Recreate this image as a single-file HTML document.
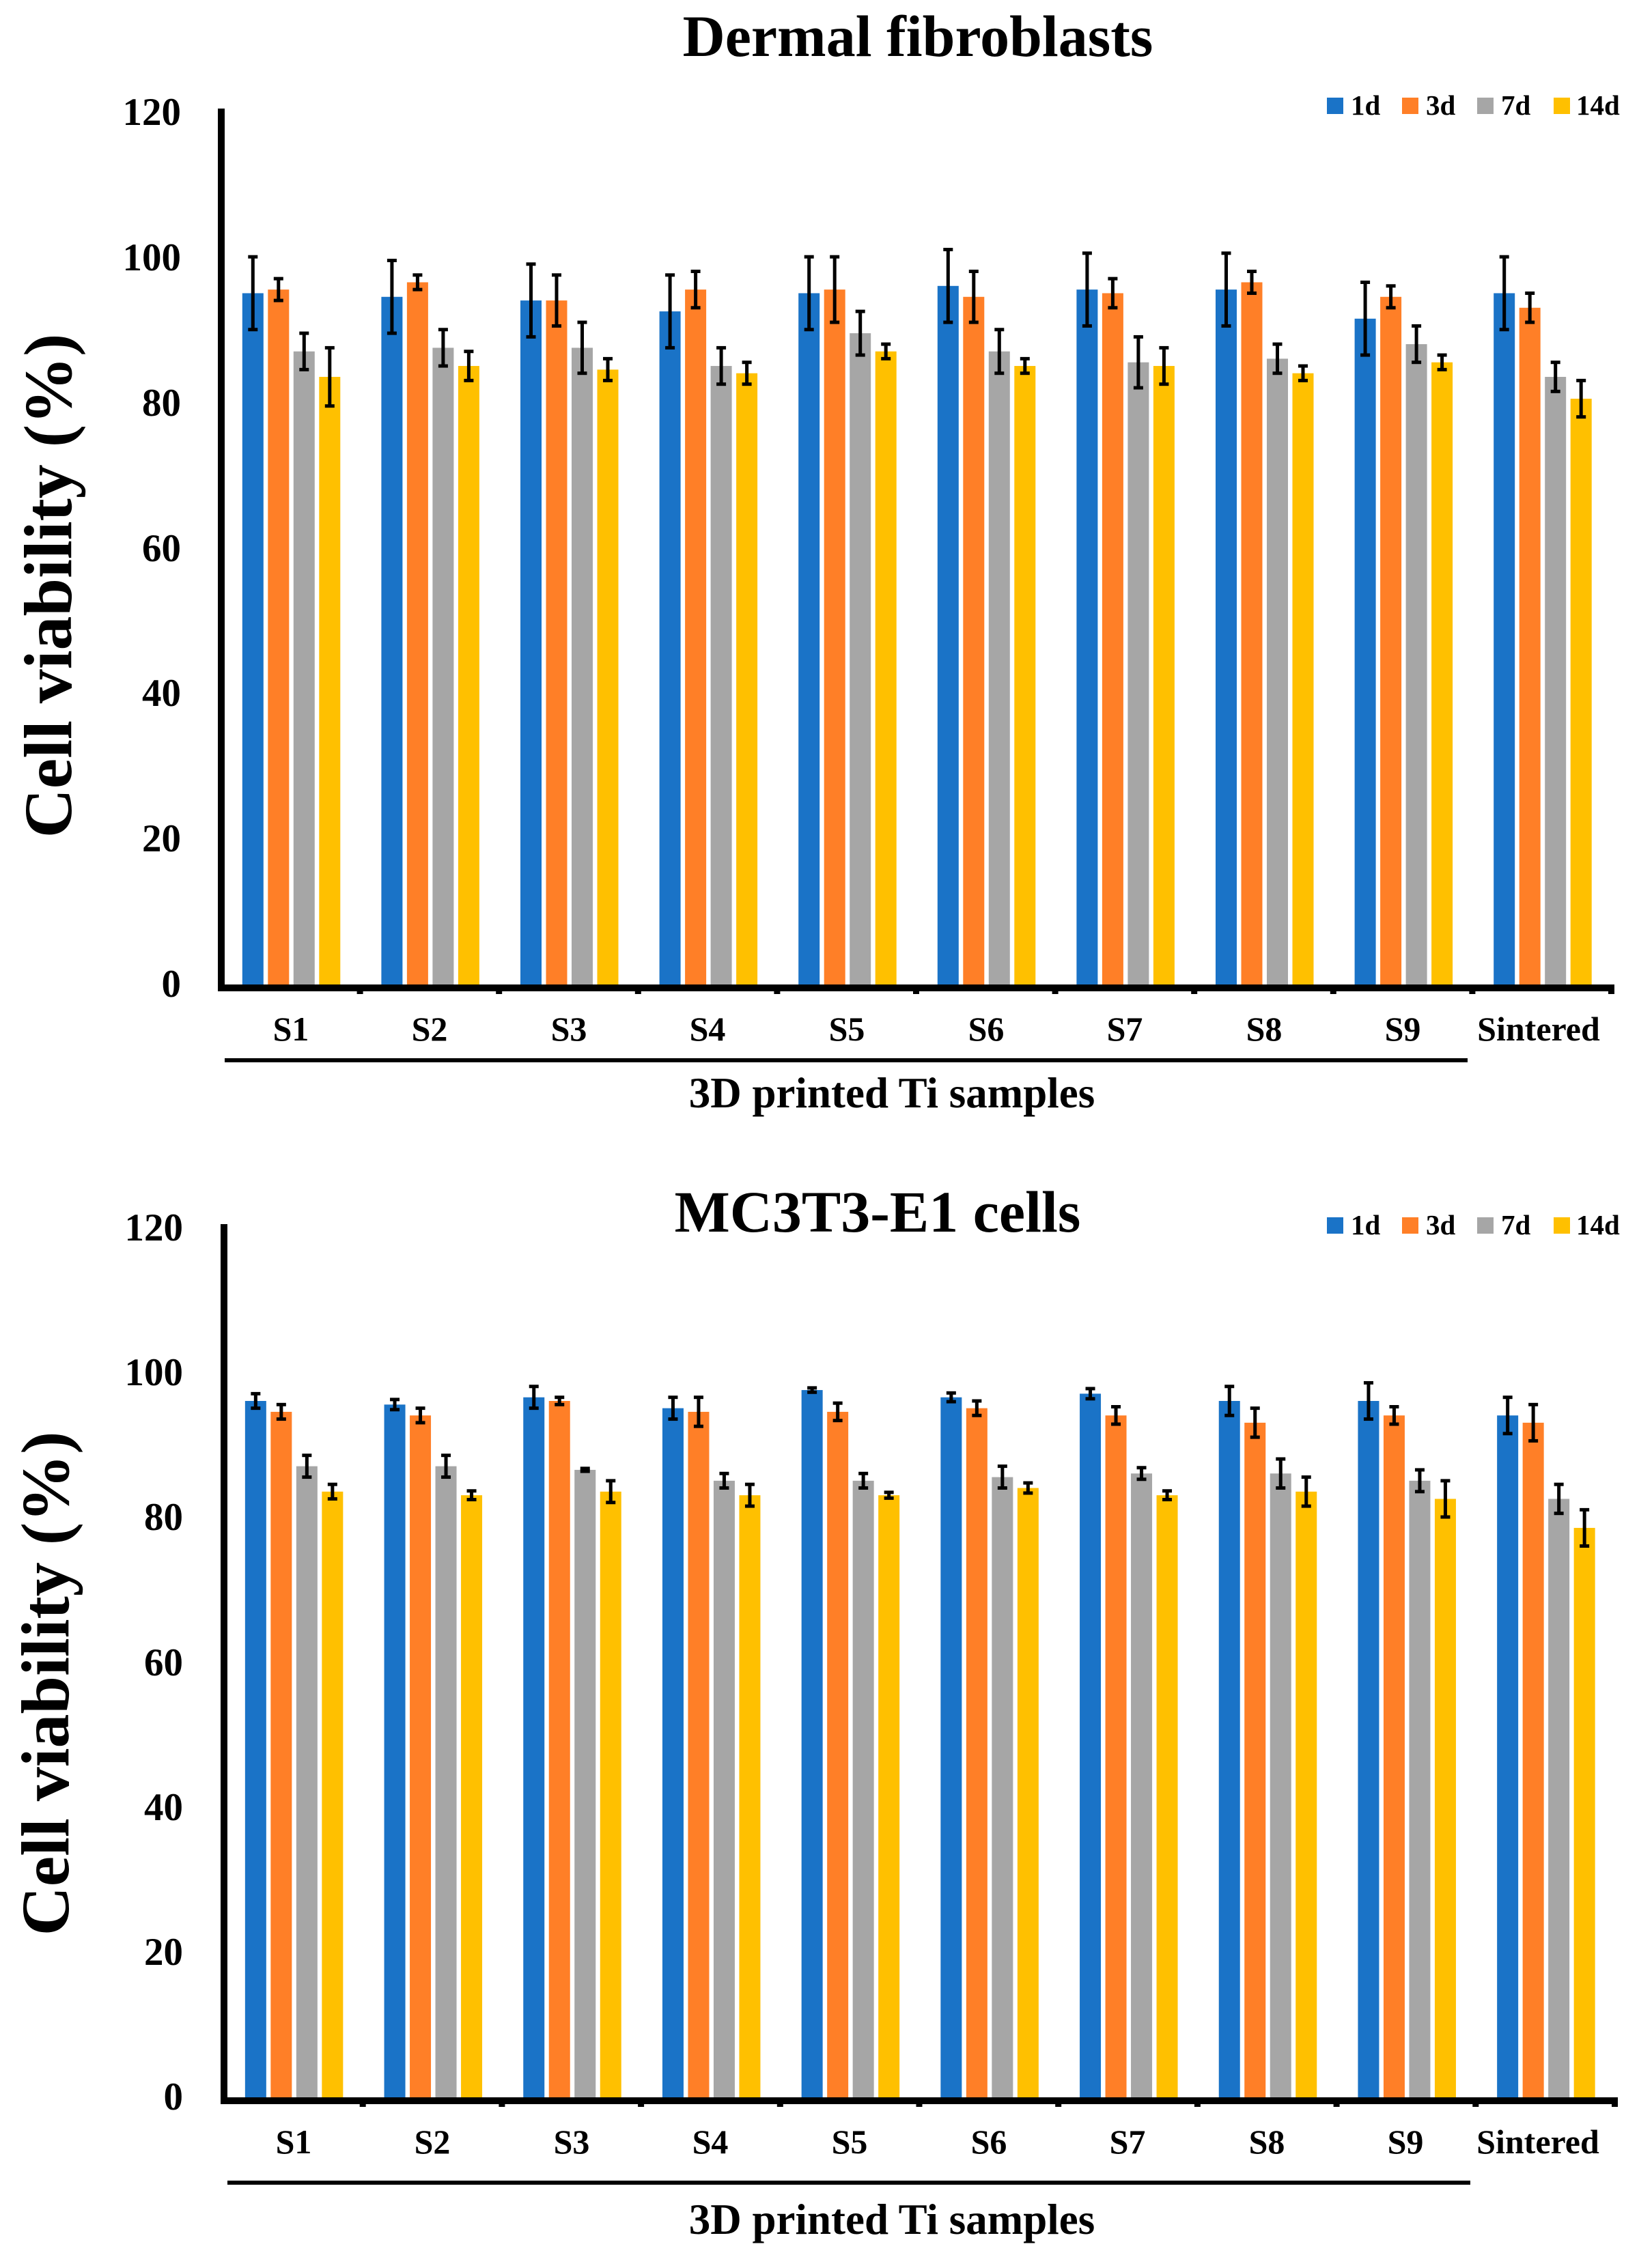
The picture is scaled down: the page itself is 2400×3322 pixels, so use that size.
<!DOCTYPE html>
<html><head><meta charset="utf-8"><style>
html,body{margin:0;padding:0;background:#fff}
svg{display:block}
text{font-family:"Liberation Serif",serif;font-weight:bold;fill:#000}
</style></head><body>
<svg id="s" width="2400" height="3322" viewBox="0 0 2400 3322" xmlns="http://www.w3.org/2000/svg">
<text x="1344" y="82" font-size="86" text-anchor="middle">Dermal fibroblasts</text>
<g font-size="57" text-anchor="end">
<text x="265" y="183">120</text><text x="265" y="396">100</text><text x="265" y="609">80</text>
<text x="265" y="822">60</text><text x="265" y="1034">40</text><text x="265" y="1247">20</text><text x="265" y="1460">0</text>
</g>
<text transform="translate(104,858) rotate(-90)" font-size="100" text-anchor="middle">Cell viability (%)</text>
<g font-size="50" text-anchor="middle">
<text x="426" y="1524">S1</text><text x="629" y="1524">S2</text><text x="833" y="1524">S3</text><text x="1036" y="1524">S4</text><text x="1240" y="1524">S5</text><text x="1444" y="1524">S6</text><text x="1647" y="1524">S7</text><text x="1851" y="1524">S8</text><text x="2054" y="1524">S9</text><text x="2253" y="1524">Sintered</text>
</g>
<text x="1306" y="1622" font-size="63" text-anchor="middle">3D printed Ti samples</text>
<g font-size="41">
<rect x="1943" y="143" width="24" height="24" fill="#1a73c7"/><text x="1978" y="168">1d</text>
<rect x="2053" y="143" width="24" height="24" fill="#ff7f27"/><text x="2088" y="168">3d</text>
<rect x="2163" y="143" width="24" height="24" fill="#a6a6a6"/><text x="2198" y="168">7d</text>
<rect x="2275" y="143" width="24" height="24" fill="#ffc000"/><text x="2308" y="168">14d</text>
</g>
<text x="1285" y="1804" font-size="86" text-anchor="middle">MC3T3-E1 cells</text>
<g font-size="57" text-anchor="end">
<text x="268" y="1817">120</text><text x="268" y="2029">100</text><text x="268" y="2241">80</text>
<text x="268" y="2454">60</text><text x="268" y="2666">40</text><text x="268" y="2878">20</text><text x="268" y="3090">0</text>
</g>
<text transform="translate(100,2466) rotate(-90)" font-size="100" text-anchor="middle">Cell viability (%)</text>
<g font-size="50" text-anchor="middle">
<text x="430" y="3154">S1</text><text x="633" y="3154">S2</text><text x="837" y="3154">S3</text><text x="1040" y="3154">S4</text><text x="1244" y="3154">S5</text><text x="1448" y="3154">S6</text><text x="1651" y="3154">S7</text><text x="1855" y="3154">S8</text><text x="2058" y="3154">S9</text><text x="2252" y="3154">Sintered</text>
</g>
<text x="1306" y="3272" font-size="63" text-anchor="middle">3D printed Ti samples</text>
<g font-size="41">
<rect x="1943" y="1783" width="24" height="24" fill="#1a73c7"/><text x="1978" y="1808">1d</text>
<rect x="2053" y="1783" width="24" height="24" fill="#ff7f27"/><text x="2088" y="1808">3d</text>
<rect x="2163" y="1783" width="24" height="24" fill="#a6a6a6"/><text x="2198" y="1808">7d</text>
<rect x="2275" y="1783" width="24" height="24" fill="#ffc000"/><text x="2308" y="1808">14d</text>
</g>
<g id="g"></g>
</svg>
<script>
var NS="http://www.w3.org/2000/svg",G=document.getElementById("g");
function r(x,y,w,h,f){var e=document.createElementNS(NS,"rect");e.setAttribute("x",x);e.setAttribute("y",y);e.setAttribute("width",w);e.setAttribute("height",h);e.setAttribute("fill",f);G.appendChild(e);}
var C=["#1a73c7","#ff7f27","#a6a6a6","#ffc000"];
function chart(ax,y0,y120,xe,ul,d){
 var k=(y0-y120)/120,cw=(xe-ax)/10;
 for(var i=0;i<10;i++){
  var cx=ax+cw*(i+0.5);
  for(var j=0;j<4;j++){
   var v=d[i][j][0],e=d[i][j][1],bx=cx-71+j*37.5;
   r(bx,y0-v*k,31,v*k,C[j]);
   var mx=bx+15.5,t=y0-(v+e)*k,b=y0-(v-e)*k;
   r(mx-2.5,t,5,b-t,"#000");r(mx-7,t-2.5,14,5,"#000");r(mx-7,b-2.5,14,5,"#000");
  }
  r(ax+cw*(i+1)-5,y0,9,14,"#000");
 }
 r(ax-5,y120-4,10,y0-y120+10,"#000");
 r(ax-5,y0,xe-ax+5,10,"#000");
 r(ax+5,ul,1820,6,"#000");
}
chart(324,1442,163,2360,1550,[
[[95,5],[95.5,1.5],[87,2.5],[83.5,4]],
[[94.5,5],[96.5,1],[87.5,2.5],[85,2]],
[[94,5],[94,3.5],[87.5,3.5],[84.5,1.5]],
[[92.5,5],[95.5,2.5],[85,2.5],[84,1.5]],
[[95,5],[95.5,4.5],[89.5,3],[87,1]],
[[96,5],[94.5,3.5],[87,3],[85,1]],
[[95.5,5],[95,2],[85.5,3.5],[85,2.5]],
[[95.5,5],[96.5,1.5],[86,2],[84,1]],
[[91.5,5],[94.5,1.5],[88,2.5],[85.5,1]],
[[95,5],[93,2],[83.5,2],[80.5,2.5]]]);
chart(328,3072,1797,2365,3194,[
[[96,1],[94.5,1],[87,1.5],[83.5,1]],
[[95.5,0.7],[94,1],[87,1.5],[83,0.6]],
[[96.5,1.5],[96,0.5],[86.5,0.2],[83.5,1.5]],
[[95,1.5],[94.5,2],[85,1],[83,1.5]],
[[97.5,0.3],[94.5,1.2],[85,1],[83,0.4]],
[[96.5,0.6],[95,1],[85.5,1.5],[84,0.7]],
[[97,0.7],[94,1.2],[86,0.8],[83,0.6]],
[[96,2],[93,2],[86,2],[83.5,2]],
[[96,2.5],[94,1.2],[85,1.5],[82.5,2.5]],
[[94,2.5],[93,2.5],[82.5,2],[78.5,2.5]]]);
</script>
</body></html>
